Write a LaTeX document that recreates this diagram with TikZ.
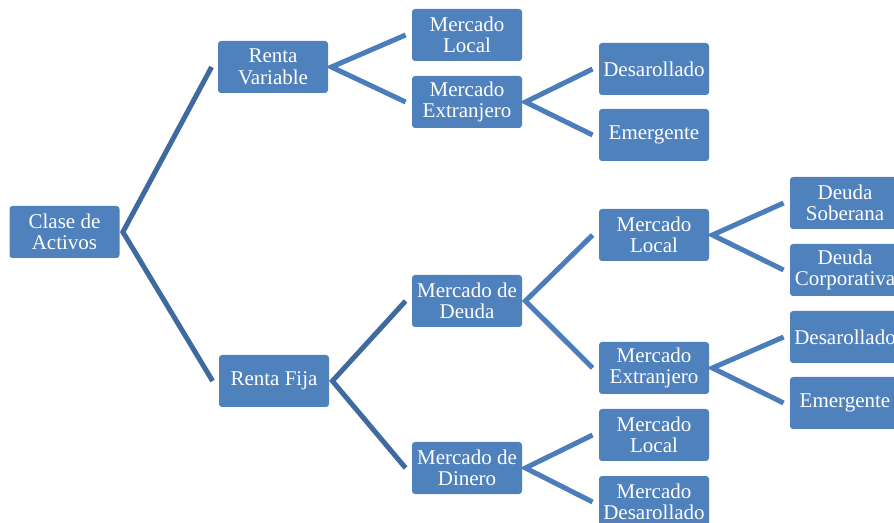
\documentclass[tikz,border=0pt]{standalone}
\usepackage{fontspec}
\setmainfont{Liberation Serif}
\usepackage{xcolor}
\usetikzlibrary{positioning}

\definecolor{boxblue}{HTML}{4F81BD}
\definecolor{linkdark}{HTML}{3E6A9F}
\definecolor{linkblue}{HTML}{4A7DBA}

\begin{document}
\begin{tikzpicture}[
x=0.5pt,y=-0.5pt,
box/.style={
fill=boxblue,
rounded corners=1.5pt,
minimum width=55pt,
minimum height=26pt,
inner sep=0pt,
align=center,
text=white,
font=\fontsize{10.5}{10.8}\selectfont
},
link/.style={draw=linkblue,line width=2.5pt},
toplink/.style={link,draw=linkdark}
]

\useasboundingbox (0,0) rectangle (894,523);
\clip (0,0) rectangle (894,523);

% root
\node[box] (clase) at (64.5,232) {Clase de\\Activos};

% renta variable
\node[box] (rvar) at (273,67) {Renta\\Variable};
\node[box] (rvlocal) at (467,35) {Mercado\\Local};
\node[box] (rvext) at (467,102) {Mercado\\Extranjero};
\node[box] (rvdes) at (654,69) {Desarollado};
\node[box] (rvemer) at (654,135) {Emergente};

% renta fija
\node[box] (rfija) at (274,381) {Renta Fija};
\node[box] (deuda) at (467,301) {Mercado de\\Deuda};
\node[box] (dinero) at (467,468) {Mercado de\\Dinero};
\node[box] (dlocal) at (654,235) {Mercado\\Local};
\node[box] (dext) at (654,368) {Mercado\\Extranjero};
\node[box] (mlocal) at (654,435) {Mercado\\Local};
\node[box] (mdes) at (654,502) {Mercado\\Desarollado};
\node[box] (sober) at (845,203) {Deuda\\Soberana};
\node[box] (corpo) at (845,270) {Deuda\\Corporativa};
\node[box] (ddes) at (845,337) {Desarollado};
\node[box] (demer) at (845,403) {Emergente};

% connectors
\draw[toplink] ([xshift=-3pt]rvar.west) -- ([xshift=1.5pt]clase.east) -- ([xshift=-3pt]rfija.west);
\draw[link] ([xshift=-3pt]rvlocal.west) -- ([xshift=1.5pt]rvar.east) -- ([xshift=-3pt]rvext.west);
\draw[link] ([xshift=-3pt]rvdes.west) -- ([xshift=1.5pt]rvext.east) -- ([xshift=-3pt]rvemer.west);
\draw[toplink] ([xshift=-3pt]deuda.west) -- ([xshift=1.5pt]rfija.east) -- ([xshift=-3pt]dinero.west);
\draw[link] ([xshift=-3pt]dlocal.west) -- ([xshift=1.5pt]deuda.east) -- ([xshift=-3pt]dext.west);
\draw[link] ([xshift=-3pt]mlocal.west) -- ([xshift=1.5pt]dinero.east) -- ([xshift=-3pt]mdes.west);
\draw[link] ([xshift=-3pt]sober.west) -- ([xshift=1.5pt]dlocal.east) -- ([xshift=-3pt]corpo.west);
\draw[link] ([xshift=-3pt]ddes.west) -- ([xshift=1.5pt]dext.east) -- ([xshift=-3pt]demer.west);

\end{tikzpicture}
\end{document}
